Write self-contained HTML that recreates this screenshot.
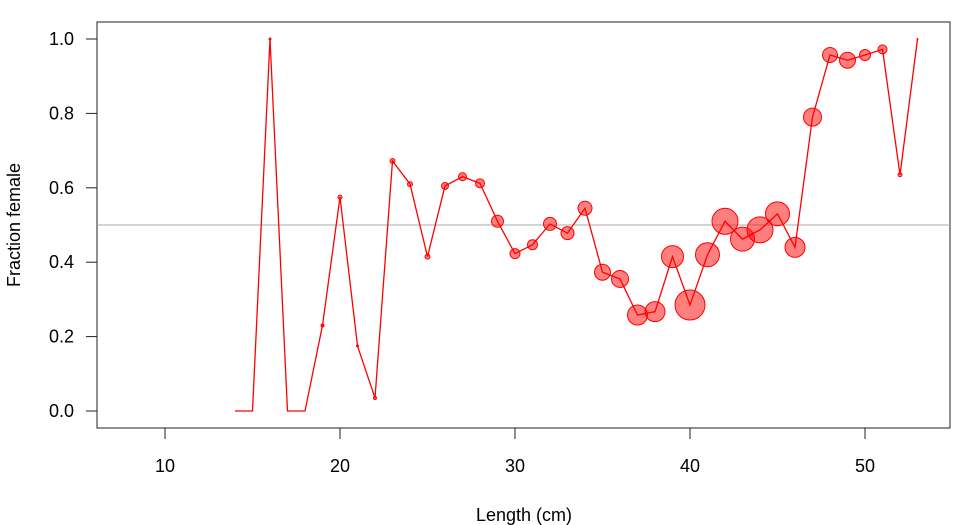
<!DOCTYPE html>
<html><head><meta charset="utf-8"><style>body{margin:0;background:#fff}svg{display:block;font-family:"Liberation Sans",Arial,sans-serif}</style></head>
<body>
<svg id="chart" width="975" height="525">
<rect x="97" y="22" width="853" height="406" fill="none" stroke="#222" stroke-width="1"/>
<g id="axes"></g>
<line id="refline" x1="97" x2="950" stroke="#aaa" stroke-width="1"/>
<g id="marks"></g>
<text x="524" y="521" font-size="18" text-anchor="middle">Length (cm)</text>
<text x="20" y="225" font-size="18" text-anchor="middle" transform="rotate(-90 20 225)">Fraction female</text>
</svg>
<script>
const lengths=[14,15,16,17,18,19,20,21,22,23,24,25,26,27,28,29,30,31,32,33,34,35,36,37,38,39,40,41,42,43,44,45,46,47,48,49,50,51,52,53];
const fractions=[0,0,1.0,0,0,0.23,0.575,0.175,0.035,0.672,0.61,0.415,0.605,0.63,0.612,0.51,0.423,0.447,0.503,0.478,0.545,0.373,0.355,0.258,0.267,0.415,0.285,0.42,0.51,0.462,0.487,0.53,0.44,0.79,0.957,0.943,0.957,0.972,0.635,1.0];
const sizes=[0,0,1,0,0,1.5,2,1,1.5,2.5,2.5,2.5,3.5,4,4.5,6,5,5,6.5,6.5,7,8,8.5,10,10,11,15,12,13,12,13,12,10,9,7.5,8,5.5,4.5,2,0.5];
const xTicks=[10,20,30,40,50];
const yTicks=[0,0.2,0.4,0.6,0.8,1.0];
const refValue=0.5;
const NS="http://www.w3.org/2000/svg";
const xs=v=>165+(v-10)*17.5;
const ys=v=>411-v*372;
const axes=document.getElementById('axes'),marks=document.getElementById('marks');
function mk(tag,attrs,parent){const e=document.createElementNS(NS,tag);for(const k in attrs)e.setAttribute(k,attrs[k]);parent.appendChild(e);return e;}
xTicks.forEach(t=>{
 const l=mk('line',{x1:xs(t),x2:xs(t),y1:428,y2:439,stroke:'#222'},axes);
 
 
 const tx=mk('text',{x:xs(t),y:472,'font-size':18,'text-anchor':'middle'},axes);tx.textContent=t;
 
 
});
yTicks.forEach(t=>{
 const l=mk('line',{x1:86,x2:97,y1:ys(t),y2:ys(t),stroke:'#222'},axes);
 
 
 const tx=mk('text',{x:74,y:ys(t)+6,'font-size':18,'text-anchor':'end'},axes);tx.textContent=t.toFixed(1);
 
 
});
const rl=document.getElementById('refline');rl.setAttribute('y1',ys(refValue));rl.setAttribute('y2',ys(refValue));
lengths.forEach((L,i)=>{
 if(sizes[i]<=0)return;
 const c=mk('circle',{cx:xs(L),cy:ys(fractions[i]),r:sizes[i],fill:'rgba(255,0,0,0.5)',stroke:'#f00','stroke-width':1},marks);
 
 
});
const p=mk('polyline',{points:lengths.map((L,i)=>xs(L)+','+ys(fractions[i])).join(' '),fill:'none',stroke:'#f00','stroke-width':1.3},marks);


</script>
</body></html>
